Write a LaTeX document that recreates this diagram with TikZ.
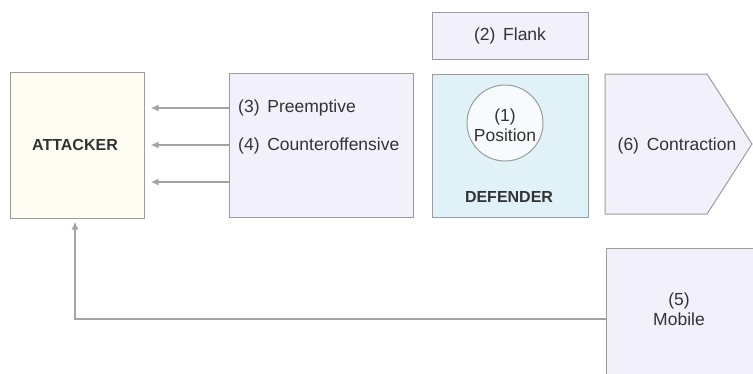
\documentclass[tikz,border=0pt]{standalone}
\usepackage{fontspec}
\setmainfont{Liberation Sans}
\usetikzlibrary{arrows.meta,calc}

\definecolor{lav}{HTML}{F2F0FB}
\definecolor{cream}{HTML}{FDFDF4}
\definecolor{sky}{HTML}{E0F1F8}
\definecolor{edge}{HTML}{9C9C9C}
\definecolor{ink}{HTML}{333333}
\definecolor{wire}{HTML}{A4A4A4}

\tikzset{
  box/.style={draw=edge, line width=1pt, rectangle, inner sep=0pt},
  lbl/.style={text=ink, font=\fontsize{17.5}{20}\selectfont, inner sep=0pt, align=center},
  bold/.style={lbl, font=\fontsize{16}{19}\selectfont\bfseries},
  arr/.style={draw=wire, line width=2pt, -{Latex[length=8pt,width=7pt]}},
}

\begin{document}
\begin{tikzpicture}[x=1pt,y=-1pt]
  \useasboundingbox (0,0) rectangle (753,373);
  \clip (0,0) rectangle (753,373);

  % attacker
  \node[box, fill=cream, minimum width=134pt, minimum height=146pt] (att) at (77,145) {};
  \node[bold] (attlbl) at (75,145) {ATTACKER};

  % preemptive / counteroffensive
  \node[box, fill=lav, minimum width=184pt, minimum height=144pt] (pre) at (321,145) {};
  \node[lbl, anchor=west] (pretxt) at (238,108) {(3)\, Preemptive};
  \node[lbl, anchor=west] (cnttxt) at (238,146) {(4)\, Counteroffensive};

  % flank
  \node[box, fill=lav, minimum width=156pt, minimum height=47pt] (flank) at (510,35.5) {};
  \node[lbl] (flanklbl) at (510,36) {(2)\, Flank};

  % defender with position circle
  \node[box, fill=sky, minimum width=156pt, minimum height=143pt] (def) at (510,145.5) {};
  \node[circle, draw=edge, line width=1pt, fill=white!75!sky, minimum size=76pt, inner sep=0pt] (pos) at (505,123) {};
  \node[lbl] (poslbl) at (505,125) {(1)\\Position};
  \node[bold] (deflbl) at (509,197) {DEFENDER};

  % contraction pentagon
  \coordinate (c1) at (605,74);
  \coordinate (c2) at (707,74);
  \coordinate (c3) at (752,144);
  \coordinate (c4) at (707,214);
  \coordinate (c5) at (605,214);
  \draw[draw=edge, line width=1pt, fill=lav] (c1) -- (c2) -- (c3) -- (c4) -- (c5) -- cycle;
  \node[lbl] (contr) at (677,146) {(6)\, Contraction};

  % mobile
  \node[box, fill=lav, minimum width=160pt, minimum height=140pt, anchor=north west] (mob) at (606,248) {};
  \node[lbl] (moblbl) at (679,309) {(5)\\Mobile};

  % arrows back to the attacker
  \foreach \yy in {108,145,182}{
    \draw[arr, shorten >=6pt] (pre.west |- 0,\yy) -- (att.east |- 0,\yy);
  }
  \coordinate (bend) at (75,319);
  \draw[arr, line width=1.6pt, shorten >=3pt] (mob.west |- bend) -- (bend) -- (att.south -| bend);
\end{tikzpicture}
\end{document}
